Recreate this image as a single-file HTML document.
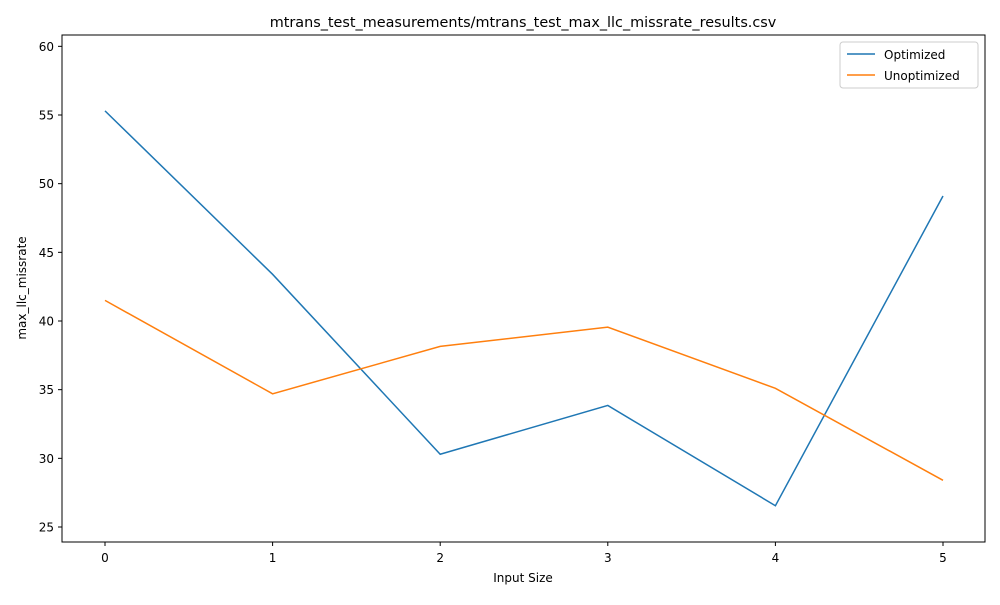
<!DOCTYPE html>
<html><head><meta charset="utf-8"><style>
body{margin:0;background:#fff;font-family:"Liberation Sans","DejaVu Sans",sans-serif}
svg text{font-family:"DejaVu Sans","Liberation Sans",sans-serif;fill:#000}
</style></head><body>
<svg id="chart" width="1000" height="600" xmlns="http://www.w3.org/2000/svg">
<rect width="1000" height="600" fill="#fff"/>
<text x="523" y="27" font-size="14.4" text-anchor="middle">mtrans_test_measurements/mtrans_test_max_llc_missrate_results.csv</text>
<g id="grid"></g>
<g id="series"></g>
<rect x="62" y="35" width="923" height="507" fill="none" stroke="#000" stroke-width="1"/>
<text x="523" y="582" font-size="12" text-anchor="middle">Input Size</text>
<text x="26" y="288" font-size="12" text-anchor="middle" transform="rotate(-90 26 288)">max_llc_missrate</text>
<g>
<rect x="840" y="42" width="138" height="46" rx="3" fill="#fff" stroke="#ccc"/>
<line x1="847" y1="54" x2="875" y2="54" stroke="#1f77b4" stroke-width="1.5"/>
<text x="884" y="59" font-size="12">Optimized</text>
<line x1="847" y1="75" x2="875" y2="75" stroke="#ff7f0e" stroke-width="1.5"/>
<text x="884" y="80" font-size="12">Unoptimized</text>
</g>
</svg>
<script>
const categories=[0,1,2,3,4,5];
const optimized=[55.3,43.4,30.3,33.85,26.55,49.1];
const unoptimized=[41.5,34.7,38.15,39.55,35.1,28.4];
const yTicks=[25,30,35,40,45,50,55,60];
const NS="http://www.w3.org/2000/svg";
function xS(v){return 105+(v-0)*(943-105)/5;}
function yS(v){return 115+(55-v)*(527-115)/30;}
const grid=document.getElementById('grid');
function mk(tag,attrs,parent){const e=document.createElementNS(NS,tag);for(const k in attrs)e.setAttribute(k,attrs[k]);parent.appendChild(e);return e;}
categories.forEach(c=>{
  const t=mk('line',{x1:xS(c),x2:xS(c),y1:542,y2:546,stroke:'#000'},grid);
  
  
  const l=mk('text',{x:xS(c),y:562,'font-size':12,'text-anchor':'middle'},grid);
  l.textContent=c;
  
  
});
yTicks.forEach(v=>{
  const t=mk('line',{x1:58,x2:62,y1:yS(v),y2:yS(v),stroke:'#000'},grid);
  
  
  const l=mk('text',{x:54,y:yS(v)+4.5,'font-size':12,'text-anchor':'end'},grid);
  l.textContent=v;
  
  
});
const ser=document.getElementById('series');
function line(data,color,name){
  const p=mk('polyline',{points:data.map((v,i)=>xS(categories[i])+','+yS(v)).join(' '),fill:'none',stroke:color,'stroke-width':1.5},ser);
  
  
}
line(optimized,'#1f77b4','optimized-line');
line(unoptimized,'#ff7f0e','unoptimized-line');
</script>
</body></html>
